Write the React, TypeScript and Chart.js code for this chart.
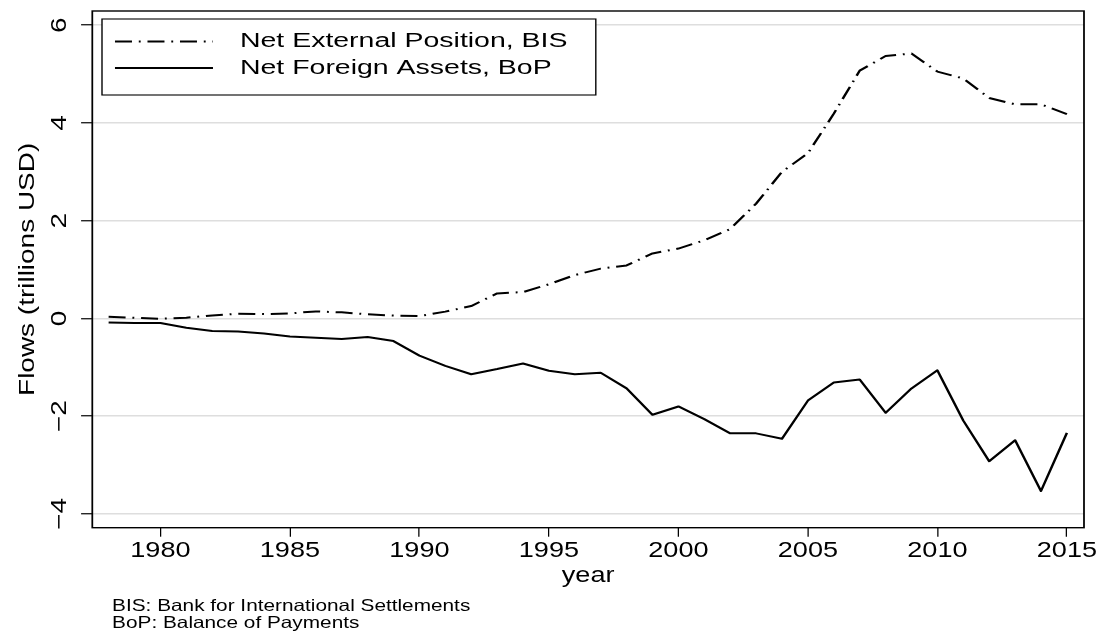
import React, { useEffect, useRef } from 'react';
import { Chart, registerables } from 'chart.js';

Chart.register(...registerables);

// ---------------- data ----------------
const years = [
  1978, 1979, 1980, 1981, 1982, 1983, 1984, 1985, 1986, 1987,
  1988, 1989, 1990, 1991, 1992, 1993, 1994, 1995, 1996, 1997,
  1998, 1999, 2000, 2001, 2002, 2003, 2004, 2005, 2006, 2007,
  2008, 2009, 2010, 2011, 2012, 2013, 2014, 2015,
];

const netExternalPositionBIS = [
  0.035, 0.015, -0.005, 0.015, 0.063, 0.097, 0.09, 0.104, 0.145, 0.125,
  0.085, 0.06, 0.05, 0.14, 0.254, 0.513, 0.54, 0.7, 0.888, 1.02,
  1.085, 1.33, 1.43, 1.6, 1.83, 2.35, 3.0, 3.38, 4.19, 5.07,
  5.37, 5.42, 5.05, 4.91, 4.51, 4.38, 4.38, 4.18,
];

const netForeignAssetsBoP = [
  -0.08, -0.094, -0.094, -0.19, -0.258, -0.265, -0.305, -0.367, -0.394, -0.421,
  -0.38, -0.462, -0.76, -0.97, -1.14, -1.035, -0.92, -1.07, -1.14, -1.11,
  -1.43, -1.97, -1.8, -2.06, -2.35, -2.35, -2.46, -1.68, -1.31, -1.25,
  -1.93, -1.43, -1.06, -2.09, -2.92, -2.49, -3.53, -2.34,
];

const seriesLabels = ['Net External Position, BIS', 'Net Foreign Assets, BoP'];
const xTickValues = [1980, 1985, 1990, 1995, 2000, 2005, 2010, 2015];
const yTickValues = [-4, -2, 0, 2, 4, 6];
const xAxisTitle = 'year';
const yAxisTitle = 'Flows (trillions USD)';
const footnoteLines = ['BIS: Bank for International Settlements', 'BoP: Balance of Payments'];

// ---------------- styling ----------------
const PAGE_W = 1101;
const PAGE_H = 636;
const LOGICAL_W = 874; // graph laid out in its native proportions, stretched horizontally to the page
const FONT = '"Liberation Sans", Arial, Helvetica, sans-serif';
const DASH_DOT = [13.5, 5.4, 1.5, 5.4];
const ROT_TEXT_STRETCH = 1.3; // rotated text is drawn wide along its reading direction

const fmtNum = (v: number) => (v < 0 ? '\u2212' + Math.abs(v) : String(v));

const stretchOf = (chart: any) => chart.canvas.width / chart.width;

const stretchPlugin = {
  id: 'stretch',
  beforeDraw(chart: any) {
    chart.ctx.setTransform(stretchOf(chart), 0, 0, chart.canvas.height / chart.height, 0, 0);
  },
};

function drawRotated(ctx: any, sx: number, text: string, x: number, y: number, size: number) {
  ctx.save();
  ctx.translate(x, y);
  ctx.scale(1 / sx, ROT_TEXT_STRETCH);
  ctx.rotate(-Math.PI / 2);
  ctx.font = `${size}px ${FONT}`;
  ctx.textAlign = 'center';
  ctx.textBaseline = 'middle';
  ctx.fillStyle = '#000';
  ctx.fillText(text, 0, 0);
  ctx.restore();
}

const decorPlugin = {
  id: 'decor',
  afterDraw(chart: any) {
    const ctx = chart.ctx;
    const a = chart.chartArea;
    const sx = stretchOf(chart);
    ctx.save();
    ctx.setTransform(sx, 0, 0, chart.canvas.height / chart.height, 0, 0);
    // plot frame
    ctx.setLineDash([]);
    ctx.strokeStyle = '#000';
    ctx.lineWidth = 1.4;
    ctx.strokeRect(a.left, a.top, a.right - a.left, a.bottom - a.top);

    // y axis tick labels and title (rotated)
    const ys = chart.scales.y;
    ys.ticks.forEach((t: any) => {
      drawRotated(ctx, sx, fmtNum(t.value), 48, ys.getPixelForValue(t.value), 21.5);
    });
    drawRotated(ctx, sx, yAxisTitle, 22.2, (a.top + a.bottom) / 2, 21.5);

    // legend box
    const bx = a.left + 7.7;
    const by = a.top + 8;
    const bw = 392;
    const bh = 76;
    ctx.fillStyle = '#fff';
    ctx.fillRect(bx, by, bw, bh);
    ctx.lineWidth = 1.1;
    ctx.strokeStyle = '#000';
    ctx.strokeRect(bx, by, bw, bh);
    chart.data.datasets.forEach((d: any, i: number) => {
      const cy = by + 22.5 + i * 26.5;
      ctx.beginPath();
      ctx.setLineDash(d.borderDash || []);
      ctx.lineWidth = d.borderWidth;
      ctx.strokeStyle = d.borderColor;
      ctx.moveTo(bx + 10.3, cy);
      ctx.lineTo(bx + 88.1, cy);
      ctx.stroke();
      ctx.setLineDash([]);
      ctx.save();
      ctx.translate(bx + 109.5, cy);
      ctx.scale(1.13, 1);
      ctx.fillStyle = '#000';
      ctx.font = `20px ${FONT}`;
      ctx.textBaseline = 'middle';
      ctx.textAlign = 'left';
      ctx.fillText(d.label, 0, 0);
      ctx.restore();
    });

    // footnote
    ctx.font = `16.5px ${FONT}`;
    ctx.textBaseline = 'alphabetic';
    ctx.textAlign = 'left';
    ctx.fillStyle = '#000';
    footnoteLines.forEach((t, i) => ctx.fillText(t, 89, 611 + i * 17));
    ctx.restore();
  },
};

export default function App() {
  const ref = useRef<HTMLCanvasElement>(null);

  useEffect(() => {
    document.body.style.margin = '0';
    const canvas = ref.current as HTMLCanvasElement;
    canvas.width = LOGICAL_W;
    canvas.height = PAGE_H;

    Chart.defaults.font.family = FONT;
    Chart.defaults.color = '#000';

    const chart = new Chart(canvas, {
      type: 'line',
      data: {
        datasets: [
          {
            label: seriesLabels[0],
            data: years.map((x, i) => ({ x, y: netExternalPositionBIS[i] })),
            borderColor: '#000',
            borderWidth: 2,
            borderDash: DASH_DOT,
            borderJoinStyle: 'round',
            pointRadius: 0,
            fill: false,
            tension: 0,
          },
          {
            label: seriesLabels[1],
            data: years.map((x, i) => ({ x, y: netForeignAssetsBoP[i] })),
            borderColor: '#000',
            borderWidth: 2,
            borderJoinStyle: 'round',
            pointRadius: 0,
            fill: false,
            tension: 0,
          },
        ],
      },
      options: {
        responsive: false,
        animation: false,
        devicePixelRatio: 1,
        events: [],
        layout: { padding: { top: 11, right: 13.5, bottom: 0, left: 0 } },
        plugins: {
          legend: { display: false },
          tooltip: { enabled: false },
          title: { display: false },
        },
        scales: {
          x: {
            type: 'linear',
            min: 1977.37,
            max: 2015.66,
            afterBuildTicks: (s: any) => {
              s.ticks = xTickValues.map((value) => ({ value }));
            },
            afterFit: (s: any) => {
              s.height = 108.3;
              s.paddingLeft = 0;
              s.paddingRight = 0;
            },
            ticks: {
              autoSkip: false,
              maxRotation: 0,
              minRotation: 0,
              padding: 1,
              color: '#000',
              font: { size: 21.5 },
              callback: (v: any) => String(v),
            },
            grid: {
              drawOnChartArea: false,
              drawTicks: true,
              tickLength: 9,
              tickWidth: 1,
              tickColor: '#000',
              color: '#000',
            },
            border: { display: false },
            title: {
              display: true,
              text: xAxisTitle,
              color: '#000',
              font: { size: 21.5 },
              padding: { top: 0, bottom: 47 },
            },
          },
          y: {
            type: 'linear',
            min: -4.28,
            max: 6.29,
            afterBuildTicks: (s: any) => {
              s.ticks = yTickValues.map((value) => ({ value }));
            },
            afterFit: (s: any) => {
              s.width = 73.27;
              s.paddingTop = 0;
              s.paddingBottom = 0;
            },
            ticks: {
              display: false,
            },
            grid: {
              color: '#dedede',
              lineWidth: 1.5,
              drawTicks: true,
              tickLength: 8.9,
              tickWidth: 1.2,
              tickColor: '#000',
            },
            border: { display: false },
            title: { display: false, text: yAxisTitle },
          },
        },
      },
      plugins: [stretchPlugin, decorPlugin],
    } as any);

    canvas.width = PAGE_W;
    canvas.height = PAGE_H;
    chart.draw();

    return () => {
      chart.destroy();
    };
  }, []);

  return (
    <div style={{ width: PAGE_W, height: PAGE_H, background: '#fff' }}>
      <canvas ref={ref} style={{ display: 'block', width: PAGE_W + 'px', height: PAGE_H + 'px' }} />
    </div>
  );
}
